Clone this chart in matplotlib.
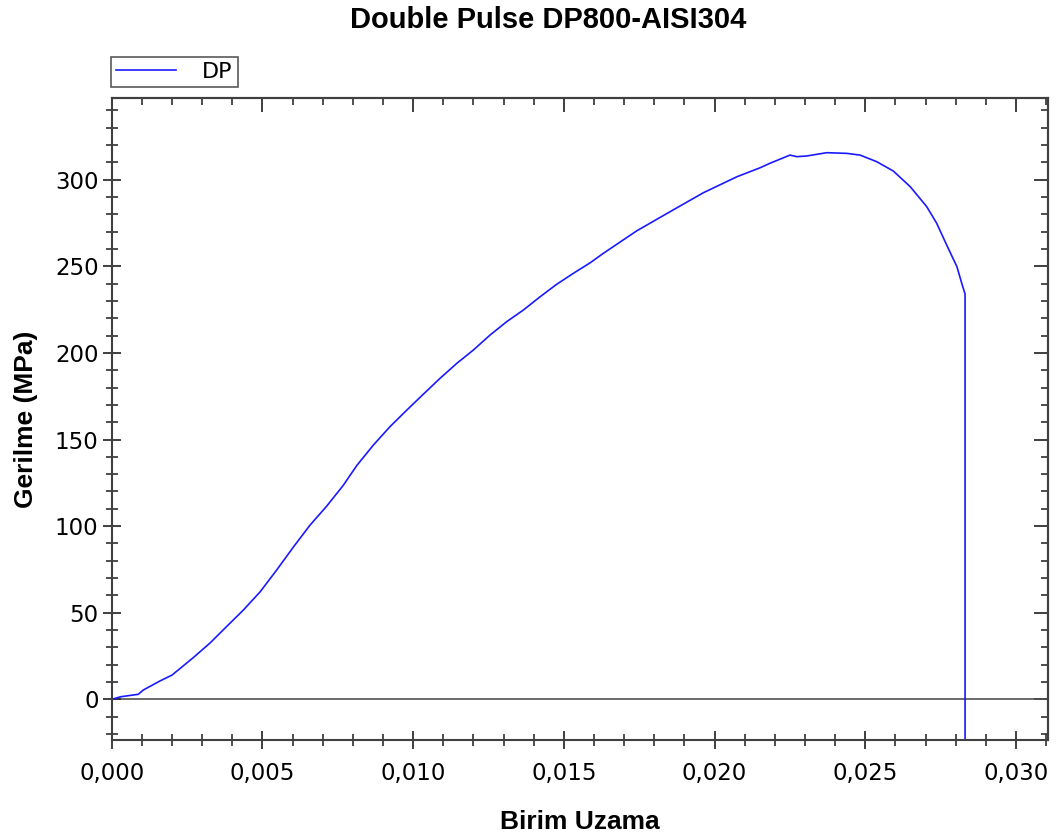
import numpy as np
import matplotlib
matplotlib.use("Agg")
import matplotlib.pyplot as plt
from matplotlib.ticker import MultipleLocator, FuncFormatter

plt.rcParams['font.family'] = ['Liberation Sans', 'DejaVu Sans']

# strain / stress
strain = [0.0, 0.0003, 0.00088, 0.00105, 0.0016, 0.002, 0.0027, 0.00326, 0.00381,
          0.00437, 0.00492, 0.00547, 0.00603, 0.00658, 0.00713, 0.00768, 0.00813,
          0.00868, 0.00923, 0.00979, 0.01034, 0.01089, 0.01145, 0.0120, 0.01255,
          0.0131, 0.01366, 0.01421, 0.01476, 0.01532, 0.01587, 0.01631, 0.01742,
          0.01852, 0.01963, 0.02074, 0.02151, 0.02184, 0.0225, 0.02273, 0.02306,
          0.02372, 0.02439, 0.02483, 0.02538, 0.02593, 0.02649, 0.02704, 0.02737,
          0.0277, 0.02804, 0.0282, 0.02831, 0.02831]
stress = [0.0, 1.5, 2.9, 5.4, 10.6, 14.0, 24.0, 32.5, 42.0,
          51.6, 62.0, 74.6, 88.0, 100.6, 111.5, 123.5, 135.0,
          146.8, 157.4, 167.0, 176.2, 185.3, 194.0, 201.7, 210.3,
          218.0, 224.8, 232.4, 239.6, 246.0, 252.0, 257.5, 270.5,
          281.5, 292.5, 301.7, 306.9, 309.5, 314.2, 313.3, 313.7,
          315.6, 315.2, 314.2, 310.4, 305.0, 296.0, 284.4, 274.8,
          262.3, 249.8, 240.2, 234.0, -40.0]

series_label = 'DP'
title = 'Double Pulse DP800-AISI304'
xlabel = 'Birim Uzama'
ylabel = 'Gerilme (MPa)'

fig = plt.figure(figsize=(10.58, 8.38), dpi=100)
ax = fig.add_axes([0.1056, 0.1169, 0.8849, 0.7658])

ax.plot(strain, stress, color='#1a1aff', lw=1.2, label=series_label)
ax.axhline(0, color='#505050', lw=1.2, zorder=1)

ax.set_xlim(0, 0.03106)
ax.set_ylim(-23.5, 347)

ax.xaxis.set_major_locator(MultipleLocator(0.005))
ax.xaxis.set_minor_locator(MultipleLocator(0.001))
ax.yaxis.set_major_locator(MultipleLocator(50))
ax.yaxis.set_minor_locator(MultipleLocator(10))
ax.xaxis.set_major_formatter(FuncFormatter(lambda v, p: f"{v:.3f}".replace('.', ',')))

ax.tick_params(which='major', direction='inout', length=13, width=1.3,
               color='#303030', labelsize=16.5)
ax.tick_params(axis='x', which='major', pad=9)
ax.tick_params(axis='y', which='major', pad=3)
ax.tick_params(which='minor', direction='inout', length=8, width=1.2, color='#303030')
ax.tick_params(top=False, right=False, which='both')
for lab in ax.get_xticklabels() + ax.get_yticklabels():
    lab.set_family('DejaVu Sans')

# inward ticks on the top and right spines
secx = ax.secondary_xaxis('top')
secx.xaxis.set_major_locator(MultipleLocator(0.005))
secx.xaxis.set_minor_locator(MultipleLocator(0.001))
secx.tick_params(which='major', direction='in', length=10, width=1.3, color='#303030', labeltop=False)
secx.tick_params(which='minor', direction='in', length=5, width=1.2, color='#303030')
secy = ax.secondary_yaxis('right')
secy.yaxis.set_major_locator(MultipleLocator(50))
secy.yaxis.set_minor_locator(MultipleLocator(10))
secy.tick_params(which='major', direction='in', length=10, width=1.3, color='#303030', labelright=False)
secy.tick_params(which='minor', direction='in', length=5, width=1.2, color='#303030')
for s in (secx.spines.values(), secy.spines.values()):
    for sp in s:
        sp.set_color('#404040')
        sp.set_linewidth(1.5)

for sp in ax.spines.values():
    sp.set_color('#404040')
    sp.set_linewidth(1.5)

ax.set_xlabel(xlabel, fontsize=19, fontweight='bold', labelpad=18)
ax.set_ylabel(ylabel, fontsize=19, fontweight='bold', labelpad=12)
fig.suptitle(title, fontsize=21, fontweight='bold', x=0.518, y=0.993)

leg = ax.legend(loc='lower left', bbox_to_anchor=(-0.001, 1.0175), frameon=True,
                fancybox=False, borderpad=0.22, handlelength=2.7,
                handletextpad=1.2, borderaxespad=0,
                prop={'family': 'DejaVu Sans', 'size': 16})
leg.get_frame().set_edgecolor('#303030')
leg.get_frame().set_linewidth(1.2)

fig.savefig('out.png', dpi=100)
